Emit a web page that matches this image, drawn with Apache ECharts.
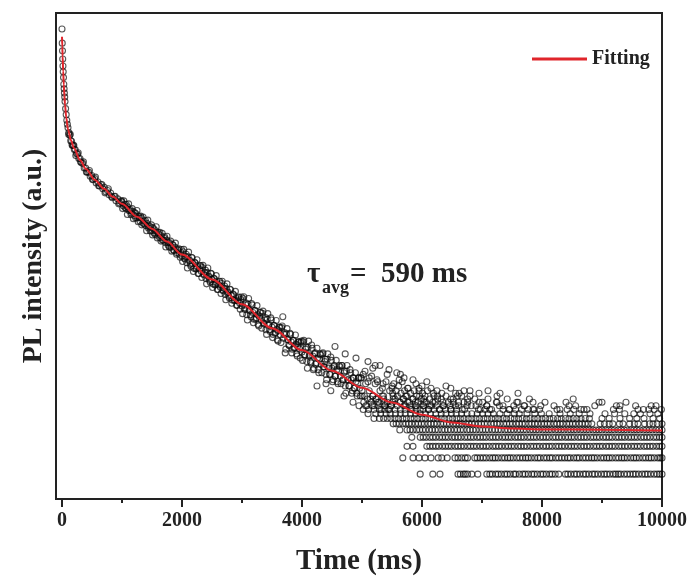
<!DOCTYPE html>
<html>
<head>
<meta charset="utf-8">
<script src="https://cdn.jsdelivr.net/npm/echarts@6/dist/echarts.min.js"></script>
<style>
  html, body { margin: 0; padding: 0; background: #fff; }
  #main { width: 691px; height: 581px; }
</style>
</head>
<body>
<div id="main"></div>
<script>
// tick positions on the time axis (ms)
var xMajorTicks = [0, 2000, 4000, 6000, 8000, 10000];
var xMinorTicks = [1000, 3000, 5000, 7000, 9000];

// fitted decay curve: time (ms) and counts
var fitTime = [0, 5, 10, 20, 30, 40, 50, 70, 100, 150, 200, 300, 400, 550, 700, 850, 1000, 1250, 1500, 1750,
  2000, 2500, 3000, 3500, 4000, 4500, 5000, 5500, 6000, 6500, 7000, 7500, 8000, 9000, 10000];
var fitCounts = [107700, 84100, 67300, 45300, 32800, 25000, 20000, 14500, 10770, 8200, 6730, 5000, 4000, 3050, 2440, 2000, 1680, 1220, 906, 656,
  475, 256, 138, 76, 44, 26.3, 17.2, 11.9, 8.8, 7.25, 6.56, 6.25, 6.1, 6.05, 5.94];

// measured points [time, counts]
var earlyDecay = [
  [0, 131000], [4, 92000], [8, 76000], [12, 62000], [16, 52000], [20, 45000], [25, 39000], [30, 33000],
  [35, 29500], [40, 26500], [45, 24000], [50, 21500], [60, 18000], [70, 15500], [80, 13500], [90, 12200],
  [100, 11200], [115, 9900], [130, 9300], [145, 8100], [160, 8000], [175, 7200], [190, 7200], [205, 6500],
  [220, 6500], [240, 5900], [260, 5800], [280, 5200], [300, 5200], [320, 4700], [345, 4600], [370, 4100],
  [395, 4100], [420, 3700], [445, 3700], [470, 3350], [495, 3400], [520, 3070], [545, 3150], [570, 2830],
  [600, 2900], [625, 2620], [650, 2700], [680, 2450], [705, 2530], [730, 2270], [760, 2340], [785, 2110],
  [810, 2200], [840, 1960], [870, 2020], [900, 1810], [930, 1900], [960, 1720], [985, 1780],
  [110, 9490], [137, 9500], [167, 7320], [197, 7210], [230, 5610], [270, 6000], [310, 4800], [357, 4780],
  [407, 3720], [457, 3850], [507, 3100], [557, 3270], [612, 2640], [665, 2720], [717, 2210], [772, 2450],
  [825, 2020], [885, 2030], [945, 1680], [990, 1820]
];

var midDecay = [
  [1000, 1760], [1020, 1600], [1045, 1650], [1070, 1490], [1090, 1560], [1115, 1420], [1140, 1460], [1160, 1330],
  [1185, 1390], [1210, 1250], [1230, 1320], [1255, 1180], [1280, 1230], [1300, 1090], [1325, 1180], [1350, 1040],
  [1370, 1090], [1395, 980], [1420, 1030], [1440, 920], [1465, 960], [1490, 860], [1510, 930], [1535, 820],
  [1560, 860], [1580, 770], [1605, 820], [1630, 720], [1650, 760], [1675, 680], [1700, 720], [1720, 640],
  [1745, 680], [1770, 600], [1790, 640], [1815, 570], [1840, 610], [1860, 530], [1885, 570], [1910, 500],
  [1930, 540], [1955, 480], [1980, 500], [2000, 455],
  [2020, 509], [2040, 434], [2060, 454], [2080, 387], [2100, 449], [2120, 406], [2140, 372], [2160, 441],
  [2180, 380], [2200, 338], [2220, 384], [2240, 335], [2260, 352], [2280, 296], [2300, 358], [2320, 314],
  [2340, 343], [2360, 293], [2380, 306], [2400, 261], [2420, 303], [2440, 273], [2460, 250], [2480, 297],
  [2500, 256], [2520, 228], [2540, 259], [2560, 226], [2580, 237], [2600, 199], [2620, 241], [2640, 211],
  [2660, 231], [2680, 197], [2700, 206], [2720, 176], [2740, 203], [2760, 184], [2780, 168], [2800, 200],
  [2820, 172], [2840, 153], [2860, 174], [2880, 152], [2900, 159], [2920, 134], [2940, 162], [2960, 142],
  [2980, 155], [3000, 132]
];

var midDecayB = [
  [1010, 1493], [1030, 1811], [1050, 1530], [1070, 1661], [1090, 1289], [1110, 1681], [1130, 1425], [1150, 1279],
  [1170, 1491], [1190, 1162], [1210, 1352], [1230, 1181], [1250, 1421], [1270, 1075], [1290, 1187], [1310, 1237],
  [1330, 996], [1350, 1208], [1370, 1020], [1390, 1108], [1410, 860], [1430, 1121], [1450, 951], [1470, 853],
  [1490, 994], [1510, 775], [1530, 902], [1550, 788], [1570, 948], [1590, 717], [1610, 793], [1630, 825],
  [1650, 664], [1670, 806], [1690, 681], [1710, 740], [1730, 574], [1750, 749], [1770, 635], [1790, 569],
  [1810, 663], [1830, 517], [1850, 602], [1870, 525], [1890, 632], [1910, 479], [1930, 528], [1950, 550],
  [1970, 444], [1990, 539],
  [2010, 399], [2030, 540], [2050, 424], [2070, 479], [2090, 340], [2110, 505], [2130, 412], [2150, 355],
  [2170, 439], [2190, 311], [2210, 392], [2230, 332], [2250, 418], [2270, 296], [2290, 332], [2310, 362],
  [2330, 268], [2350, 363], [2370, 285], [2390, 322], [2410, 229], [2430, 340], [2450, 277], [2470, 239],
  [2490, 295], [2510, 209], [2530, 263], [2550, 223], [2570, 281], [2590, 199], [2610, 223], [2630, 244],
  [2650, 180], [2670, 244], [2690, 192], [2710, 217], [2730, 154], [2750, 229], [2770, 187], [2790, 161],
  [2810, 198], [2830, 141], [2850, 178], [2870, 151], [2890, 190], [2910, 134], [2930, 150], [2950, 165],
  [2970, 122], [2990, 165]
];

var lateDecay = [
  [3020, 159], [3040, 125], [3060, 135], [3080, 106], [3100, 138], [3120, 118], [3140, 106], [3160, 140],
  [3180, 112], [3200, 95], [3220, 118], [3240, 98], [3260, 106], [3280, 80], [3300, 113], [3320, 93],
  [3340, 110], [3360, 86], [3380, 93], [3400, 73], [3420, 95], [3440, 81], [3460, 73], [3480, 98],
  [3500, 78], [3520, 65], [3540, 81], [3560, 68], [3580, 74], [3600, 55], [3620, 78], [3640, 64],
  [3660, 77], [3680, 101], [3700, 65], [3720, 41], [3740, 66], [3760, 57], [3780, 50], [3800, 67],
  [3820, 54], [3840, 45], [3860, 56], [3880, 47], [3900, 51], [3920, 38], [3940, 54], [3960, 45],
  [3980, 53], [4000, 42],
  [4020, 54], [4040, 39], [4060, 45], [4080, 33], [4100, 47], [4120, 38], [4140, 33], [4160, 50],
  [4180, 38], [4200, 28], [4220, 41], [4240, 32], [4260, 36], [4280, 25], [4300, 40], [4320, 31],
  [4340, 40], [4360, 29], [4380, 33], [4400, 24], [4420, 35], [4440, 28], [4460, 24], [4480, 37],
  [4500, 28], [4520, 21], [4540, 30], [4560, 23], [4580, 27], [4600, 19], [4620, 30], [4640, 23],
  [4660, 30], [4680, 21], [4700, 25], [4720, 18], [4740, 26], [4760, 21], [4780, 18], [4800, 27],
  [4820, 21], [4840, 16], [4860, 22], [4880, 17], [4900, 20], [4920, 14], [4940, 22], [4960, 17],
  [4980, 22], [5000, 16],
  [5020, 24], [5040, 14], [5060, 19], [5080, 11], [5100, 20], [5120, 16], [5140, 13], [5160, 23],
  [5180, 14], [5200, 11], [5220, 19], [5240, 13], [5260, 20], [5280, 12], [5300, 16], [5320, 10],
  [5340, 17], [5360, 14], [5380, 11], [5400, 20], [5420, 12], [5440, 10], [5460, 16], [5480, 11],
  [5500, 17]
];

var lateDecayB = [
  [3010, 109], [3030, 166], [3050, 121], [3070, 142], [3090, 93], [3110, 159], [3130, 119], [3150, 101],
  [3170, 135], [3190, 87], [3210, 118], [3230, 95], [3250, 133], [3270, 83], [3290, 102], [3310, 112],
  [3330, 76], [3350, 116], [3370, 84], [3390, 99], [3410, 65], [3430, 109], [3450, 83], [3470, 70],
  [3490, 93], [3510, 60], [3530, 81], [3550, 67], [3570, 92], [3590, 57], [3610, 71], [3630, 77],
  [3650, 53], [3670, 80], [3690, 59], [3710, 68], [3730, 45], [3750, 75], [3770, 57], [3790, 49],
  [3810, 65], [3830, 41], [3850, 56], [3870, 46], [3890, 64], [3910, 40], [3930, 49], [3950, 54],
  [3970, 36], [3990, 55],
  [4010, 34], [4030, 56], [4050, 39], [4070, 47], [4090, 28], [4110, 55], [4130, 39], [4150, 32],
  [4170, 46], [4190, 27], [4210, 40], [4230, 31], [4250, 46], [4270, 27], [4290, 35], [4310, 39],
  [4330, 25], [4350, 41], [4370, 29], [4390, 35], [4410, 21], [4430, 40], [4450, 29], [4470, 24],
  [4490, 34], [4510, 20], [4530, 29], [4550, 23], [4570, 34], [4590, 20], [4610, 26], [4630, 29],
  [4650, 19], [4670, 30], [4690, 21], [4710, 26], [4730, 15], [4750, 30], [4770, 21], [4790, 18],
  [4810, 25], [4830, 15], [4850, 22], [4870, 17], [4890, 25], [4910, 15], [4930, 19], [4950, 22],
  [4970, 14], [4990, 22]
];

var scatterOutliers = [
  [4250, 18], [4400, 19], [4480, 16], [4550, 48], [4700, 14], [4720, 40], [4850, 12], [4900, 36],
  [4950, 11], [5050, 26], [5100, 33], [5120, 22], [5180, 28], [5220, 30], [5250, 21], [5300, 30],
  [5350, 19], [5420, 24], [5450, 27], [5500, 18], [5580, 25], [5620, 21], [5640, 24], [5700, 22],
  [5760, 17], [5850, 21], [5900, 19], [5950, 16], [6000, 18], [6080, 20], [6150, 17], [6250, 16],
  [6330, 15], [6400, 18], [6480, 17], [6560, 15], [6620, 15], [6700, 16], [6800, 16], [6950, 15],
  [7100, 16], [7300, 15], [7600, 15]
];

var tailCloud = [
  [5510, 15], [5530, 19], [5550, 13], [5570, 16], [5590, 14], [5610, 18], [5630, 12], [5650, 15],
  [5670, 20], [5690, 13], [5710, 16], [5730, 11], [5750, 14], [5770, 17], [5790, 12], [5810, 15],
  [5830, 10], [5850, 13], [5870, 16], [5890, 11], [5910, 14], [5930, 12], [5950, 17], [5970, 10],
  [5990, 13], [6010, 15], [6030, 11], [6050, 14], [6070, 12], [6090, 16], [6110, 10], [6130, 13],
  [6160, 11], [6190, 15], [6220, 12], [6260, 14], [6290, 10], [6320, 13], [6360, 11], [6400, 14],
  [6440, 12], [6480, 10], [6520, 13], [6560, 11], [6610, 12], [6660, 14], [6710, 10], [6760, 12],
  [6820, 11], [6880, 13], [6940, 10], [7010, 12], [7080, 11], [7160, 10], [7250, 12], [7350, 11],
  [7460, 10], [7580, 12], [7700, 11], [7850, 10], [8050, 12], [8250, 10], [8450, 11], [8700, 10],
  [9000, 12], [9300, 11], [9600, 10], [9900, 11]
];

// background rows of low counts: time (ms) of each point in the row
var row2Times = [5970, 6180, 6300, 6600, 6640, 6690, 6720, 6760, 6830, 6930,
  7080, 7130, 7170, 7230, 7270, 7320, 7380, 7420, 7470, 7530, 7560, 7620, 7680, 7720, 7770, 7830, 7870, 7920, 7980,
  8020, 8070, 8130, 8170, 8220, 8280, 8390, 8430, 8480, 8540, 8580, 8630, 8690, 8730, 8780, 8840, 8880, 8930, 8990,
  9040, 9080, 9130, 9190, 9230, 9270, 9310, 9370, 9420, 9470, 9520, 9560, 9610, 9670, 9720, 9760, 9810, 9870, 9920, 9960, 10000];
var row3Times = [5680, 5850, 5950, 6050, 6150, 6270, 6330, 6420, 6550, 6600, 6660, 6720, 6760, 6880, 6920, 6970, 7020, 7070, 7130, 7180,
  7220, 7270, 7330, 7380, 7430, 7470, 7520, 7580, 7630, 7680, 7730, 7770, 7820, 7880, 7930, 7970,
  8030, 8080, 8130, 8170, 8230, 8280, 8330, 8380, 8430, 8470, 8530, 8580, 8620, 8680, 8730, 8780, 8830, 8870, 8920, 8980,
  9030, 9080, 9120, 9170, 9230, 9280, 9330, 9370, 9420, 9480, 9530, 9570, 9620, 9680, 9730, 9780, 9820, 9870, 9930, 9970, 10000];
var row4Times = [5750, 5850, 6080, 6130, 6180, 6230, 6280, 6340, 6390, 6440, 6490, 6550, 6600, 6650, 6700, 6760, 6810, 6860, 6910, 6970,
  7020, 7070, 7120, 7180, 7230, 7280, 7330, 7390, 7440, 7490, 7540, 7600, 7650, 7700, 7750, 7810, 7860, 7910, 7960,
  8020, 8070, 8120, 8170, 8230, 8280, 8330, 8380, 8440, 8490, 8540, 8590, 8650, 8700, 8750, 8800, 8860, 8910, 8960,
  9010, 9070, 9120, 9170, 9220, 9280, 9330, 9380, 9430, 9490, 9540, 9590, 9640, 9700, 9750, 9800, 9850, 9910, 9960, 10000];
var row5Times = [5830, 5970, 6020, 6070, 6130, 6180, 6230, 6290, 6340, 6390, 6440, 6500, 6550, 6600, 6650, 6710, 6760, 6810, 6860, 6920, 6970,
  7020, 7070, 7130, 7180, 7230, 7280, 7340, 7390, 7440, 7490, 7550, 7600, 7650, 7700, 7760, 7810, 7860, 7910, 7970,
  8020, 8070, 8120, 8180, 8230, 8280, 8330, 8390, 8440, 8490, 8540, 8600, 8650, 8700, 8750, 8810, 8860, 8910, 8960,
  9020, 9070, 9120, 9170, 9230, 9280, 9330, 9380, 9440, 9490, 9540, 9590, 9650, 9700, 9750, 9800, 9860, 9910, 9960, 10000];
var row6Times = [5630, 5750, 5800, 5850, 5910, 5960, 6010, 6060, 6120, 6170, 6220, 6270, 6330, 6380, 6430, 6480, 6540, 6590, 6640, 6690,
  6750, 6800, 6850, 6900, 6960, 7010, 7060, 7110, 7170, 7220, 7270, 7320, 7380, 7430, 7480, 7530, 7590, 7640, 7690, 7740,
  7800, 7850, 7900, 7950, 8010, 8060, 8110, 8160, 8220, 8270, 8320, 8370, 8430, 8480, 8530, 8580, 8640, 8690, 8740, 8790,
  8850, 8900, 8950, 9000, 9060, 9110, 9160, 9210, 9270, 9320, 9370, 9420, 9480, 9530, 9580, 9630, 9690, 9740, 9790, 9840, 9900, 9950, 10000];
var row7Times = [5520, 5570, 5620, 5680, 5730, 5780, 5830, 5890, 5940, 5990, 6040, 6100, 6150, 6200, 6250, 6310, 6360, 6410, 6460, 6520,
  6570, 6620, 6670, 6730, 6780, 6830, 6880, 6940, 6990, 7040, 7090, 7150, 7200, 7250, 7300, 7360, 7410, 7460, 7510, 7570,
  7620, 7670, 7720, 7780, 7830, 7880, 7930, 7990, 8040, 8090, 8140, 8200, 8250, 8300, 8350, 8410, 8460, 8510, 8560, 8620,
  8670, 8720, 8770, 8830, 8970, 9040, 9120, 9180, 9290, 9350, 9460, 9540, 9600, 9710, 9790, 9850, 9920, 10000];
var row8Times = [5200, 5290, 5360, 5420, 5480, 5550, 5610, 5680, 5740, 5810, 5870, 5930, 6000, 6060, 6130, 6190, 6250, 6320, 6380, 6450,
  6510, 6580, 6640, 6700, 6770, 6830, 6900, 6960, 7030, 7090, 7160, 7220, 7280, 7350, 7410, 7480, 7540, 7610, 7670, 7740,
  7800, 7870, 7930, 8000, 8060, 8130, 8190, 8260, 8320, 8390, 8450, 8520, 8580, 8650, 8720, 8790, 9000, 9120, 9300, 9460, 9580, 9700, 9850, 9960];
var row9Times = [5100, 5230, 5310, 5400, 5470, 5560, 5640, 5720, 5810, 5890, 5970, 6060, 6140, 6230, 6320, 6400, 6490, 6570, 6660, 6750,
  6830, 6920, 7010, 7100, 7190, 7300, 7420, 7540, 7620, 7750, 7880, 7990, 8120, 8300, 8470, 8620, 8800, 9050, 9210, 9380, 9530, 9640, 9800, 9930];
var row10Times = [5020, 5110, 5200, 5290, 5380, 5460, 5550, 5640, 5720, 5810, 5900, 6020, 6110, 6200, 6300, 6390, 6480, 6580, 6670, 6970,
  7050, 7130, 7350, 7450, 7560, 7660, 7770, 7870, 7960, 8300, 8420, 8530, 8650, 8750, 9190, 9290, 9690, 9780, 9870, 9990];
var row11Times = [5060, 5170, 5270, 5380, 5490, 5590, 5700, 5800, 5910, 6020, 6130, 6240, 6350, 6470, 6610, 6750, 6900, 7080, 7290, 7530,
  7710, 7980, 8200, 8560, 8880, 9240, 9560, 9820];
var row12Times = [5030, 5150, 5260, 5380, 5510, 5640, 5760, 5890, 6040, 6180, 6350, 6520, 6700, 6950, 7240, 7600, 7850, 8400, 8950, 9400];
var row13Times = [5090, 5230, 5360, 5520, 5690, 5850, 6030, 6260, 6480, 6760, 7100, 7420, 7790, 8520];
var row14Times = [5000, 5180, 5340, 5520, 5730, 5960, 6200, 6590, 6800, 7250];

var serifFont = '"Liberation Serif", "Times New Roman", serif';

var tailRows = [
  [2, row2Times], [3, row3Times], [4, row4Times], [5, row5Times], [6, row6Times], [7, row7Times],
  [8, row8Times], [9, row9Times], [10, row10Times], [11, row11Times], [12, row12Times], [13, row13Times], [14, row14Times]
];

var measured = earlyDecay.concat(midDecay, midDecayB, lateDecay, lateDecayB, scatterOutliers, tailCloud);
tailRows.forEach(function (row) {
  row[1].forEach(function (t) { measured.push([t, row[0]]); });
});

var fitData = fitTime.map(function (t, i) { return [t, fitCounts[i]]; });

var myChart = echarts.init(document.getElementById('main'));

var option = {
  animation: false,
  backgroundColor: '#fff',
  grid: {
    left: 56, right: 29, top: 13, bottom: 79,
    show: true, borderColor: '#222', borderWidth: 2
  },
  legend: {
    data: [{ name: 'Fitting', icon: 'rect' }],
    left: 527, top: 44,
    itemWidth: 55, itemHeight: 3,
    textStyle: { fontFamily: serifFont, fontWeight: 'bold', fontSize: 20, color: '#222' }
  },
  xAxis: [
    {
      type: 'value', min: -100, max: 10000, position: 'bottom',
      name: 'Time (ms)', nameLocation: 'middle', nameGap: 48,
      nameTextStyle: { fontFamily: serifFont, fontWeight: 'bold', fontSize: 29, color: '#222' },
      axisLine: { onZero: false, lineStyle: { color: '#222', width: 2 } },
      axisTick: { customValues: xMajorTicks, length: 8, lineStyle: { color: '#222', width: 2 } },
      axisLabel: {
        customValues: xMajorTicks, margin: 12,
        formatter: function (v) { return String(v); },
        fontFamily: serifFont, fontWeight: 'bold', fontSize: 20, color: '#222'
      },
      splitLine: { show: false }
    },
    {
      type: 'value', min: -100, max: 10000, position: 'bottom',
      axisLine: { show: false, onZero: false },
      axisTick: { customValues: xMinorTicks, length: 4, lineStyle: { color: '#222', width: 2 } },
      axisLabel: { show: false },
      splitLine: { show: false }
    }
  ],
  yAxis: {
    type: 'log', logBase: 10, min: 1.077, max: 195000,
    name: 'PL intensity (a.u.)', nameLocation: 'middle', nameGap: 8,
    nameTextStyle: { fontFamily: serifFont, fontWeight: 'bold', fontSize: 28, color: '#222' },
    axisLine: { show: false, onZero: false },
    axisTick: { show: false },
    axisLabel: { show: false },
    splitLine: { show: false }
  },
  graphic: [
    { type: 'text', x: 307, y: 275, style: { text: 'τ', font: 'bold 29px ' + serifFont, fill: '#222', verticalAlign: 'middle' } },
    { type: 'text', x: 322, y: 288, style: { text: 'avg', font: 'bold 18px ' + serifFont, fill: '#222', verticalAlign: 'middle' } },
    { type: 'text', x: 350, y: 275, style: { text: '=  590 ms', font: 'bold 29px ' + serifFont, fill: '#222', verticalAlign: 'middle' } }
  ],
  series: [
    {
      name: 'Data',
      type: 'scatter',
      data: measured,
      symbol: 'circle',
      symbolSize: 6,
      itemStyle: { color: 'rgba(0,0,0,0)', borderColor: 'rgba(10,10,10,0.85)', borderWidth: 1.1 },
      z: 2
    },
    {
      name: 'Fitting',
      type: 'line',
      data: fitData,
      symbol: 'none',
      smooth: 0.3,
      smoothMonotone: 'x',
      lineStyle: { color: '#e0252b', width: 2 },
      itemStyle: { color: '#e0252b' },
      z: 3
    }
  ]
};

myChart.setOption(option);
</script>
</body>
</html>
